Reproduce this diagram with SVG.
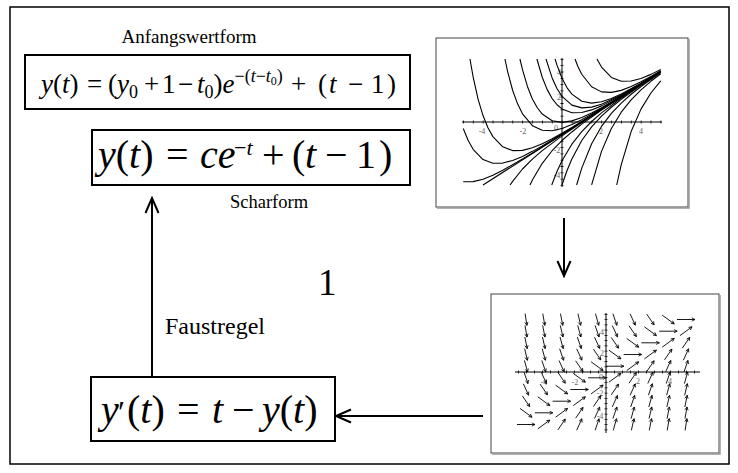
<svg xmlns="http://www.w3.org/2000/svg" xmlns:xlink="http://www.w3.org/1999/xlink" width="738" height="473" viewBox="0 0 738 473">
<style>
.s{font-family:"Liberation Serif","Times New Roman",serif;fill:#000}
.i{font-style:italic}
.box{fill:#fff;stroke:#000;stroke-width:2}
.conn{fill:none;stroke:#000;stroke-width:2;marker-end:url(#ch)}
.cv{fill:none;stroke:#000;stroke-width:1.1;vector-effect:non-scaling-stroke;stroke-linejoin:round}
.tk{font-family:"Liberation Serif","Times New Roman",serif;font-size:8px;fill:#666;text-anchor:middle}
.ax{stroke:#000;stroke-width:1;fill:none}
</style>
<defs>
<marker id="ch" viewBox="-17 -9 19 18" refX="0" refY="0" markerWidth="19" markerHeight="18" markerUnits="userSpaceOnUse" orient="auto">
<path d="M-15,-6.5 L0,0 L-15,6.5" fill="none" stroke="#000" stroke-width="2"/>
</marker>
<marker id="ah" viewBox="-5 -3 6 6" refX="0" refY="0" markerWidth="6" markerHeight="6" markerUnits="userSpaceOnUse" orient="auto">
<path d="M-3.2,-1.6 L0,0 L-3.2,1.6" fill="none" stroke="#000" stroke-width="0.8"/>
</marker>
<path id="a0" d="M-9,0 L9,0"/>
<path id="p1" d="M-6.02,4.39 L6.02,-4.39"/>
<path id="p2" d="M-3.69,5.39 L3.69,-5.39"/>
<path id="p3" d="M-2.59,5.66 L2.59,-5.66"/>
<path id="p4" d="M-1.98,5.76 L1.98,-5.76"/>
<path id="p5" d="M-1.59,5.81 L1.59,-5.81"/>
<path id="p6" d="M-1.34,5.84 L1.34,-5.84"/>
<path id="p7" d="M-1.15,5.86 L1.15,-5.86"/>
<path id="p8" d="M-1.01,5.87 L1.01,-5.87"/>
<path id="p9" d="M-0.9,5.88 L0.9,-5.88"/>
<path id="n1" d="M-6.02,-4.39 L6.02,4.39"/>
<path id="n2" d="M-3.69,-5.39 L3.69,5.39"/>
<path id="n3" d="M-2.59,-5.66 L2.59,5.66"/>
<path id="n4" d="M-1.98,-5.76 L1.98,5.76"/>
<path id="n5" d="M-1.59,-5.81 L1.59,5.81"/>
<path id="n6" d="M-1.34,-5.84 L1.34,5.84"/>
<path id="n7" d="M-1.15,-5.86 L1.15,5.86"/>
<path id="n8" d="M-1.01,-5.87 L1.01,5.87"/>
<path id="n9" d="M-0.9,-5.88 L0.9,5.88"/>
</defs>
<rect x="0" y="0" width="738" height="473" fill="#fff"/>
<rect id="frame" x="10" y="7" width="719" height="457" fill="none" stroke="#000" stroke-width="1.5"/>

<g id="n-anfangswertform">
<text class="s" x="189" y="43" font-size="19" text-anchor="middle">Anfangswertform</text>
<rect class="box" x="25" y="55" width="385" height="54"/>
<text class="s" font-size="27"><tspan x="41" y="93"><tspan class="i">y</tspan>(<tspan class="i">t</tspan>)</tspan><tspan x="87" y="93">=</tspan><tspan x="108" y="93">(<tspan class="i">y</tspan><tspan font-size="18" dy="5">0</tspan></tspan><tspan x="144" y="93">+</tspan><tspan x="162" y="93">1</tspan><tspan x="178" y="93">−</tspan><tspan x="197" y="93"><tspan class="i">t</tspan><tspan font-size="18" dy="5">0</tspan><tspan dy="-5">)</tspan><tspan class="i">e</tspan><tspan font-size="18" dy="-11">−(<tspan class="i">t</tspan>−<tspan class="i">t</tspan><tspan font-size="12" dy="3">0</tspan><tspan dy="-3">)</tspan></tspan></tspan><tspan x="291" y="93">+</tspan><tspan x="318" y="93">(</tspan><tspan x="329" y="93" class="i">t</tspan><tspan x="348" y="93">−</tspan><tspan x="371" y="93">1</tspan><tspan x="387" y="93">)</tspan></text>
</g>

<g id="n-scharform">
<rect class="box" x="92" y="130" width="318" height="55"/>
<text class="s" font-size="40"><tspan x="98" y="168"><tspan class="i">y</tspan>(<tspan class="i">t</tspan>)</tspan><tspan x="166" y="168">=</tspan><tspan x="200" y="168" class="i">ce</tspan><tspan x="234" y="155" font-size="22">−<tspan class="i">t</tspan></tspan><tspan x="262" y="168">+</tspan><tspan x="292" y="168">(</tspan><tspan x="305" y="168" class="i">t</tspan><tspan x="325" y="168">−</tspan><tspan x="356" y="168">1</tspan><tspan x="379" y="168">)</tspan></text>
<text class="s" x="269" y="208" font-size="18.5" text-anchor="middle">Scharform</text>
</g>

<g id="n-dgl">
<rect class="box" x="91" y="377" width="244" height="64"/>
<text class="s" font-size="40"><tspan x="101" y="423" class="i">y</tspan><tspan x="118" y="423" font-size="32">′</tspan><tspan x="127" y="423">(<tspan class="i">t</tspan>)</tspan><tspan x="177" y="423">=</tspan><tspan x="212" y="423" class="i">t</tspan><tspan x="232" y="423">−</tspan><tspan x="262" y="423"><tspan class="i">y</tspan>(<tspan class="i">t</tspan>)</tspan></text>
</g>

<g id="n-loesungskurven">
<rect x="436" y="38" width="252" height="169" fill="#fff" stroke="#444" stroke-width="1"/>
<path d="M437,208 H689 V39" fill="none" stroke="#999" stroke-width="1.5"/>
<path class="ax" d="M462,122 H662 M562,58 V187"/>
<path d="M463,122 H662" stroke="#000" stroke-width="3" stroke-dasharray="0.8 9.075" fill="none"/>
<path d="M562,59 V187" stroke="#000" stroke-width="3" stroke-dasharray="0.8 5.5" fill="none"/>
<text class="tk" x="482" y="134">-4</text><text class="tk" x="523" y="134">-2</text><text class="tk" x="556" y="131">0</text><text class="tk" x="601" y="134">2</text><text class="tk" x="641" y="134">4</text>
<text class="tk" x="559" y="75">4</text><text class="tk" x="559" y="100">2</text><text class="tk" x="557" y="153">-2</text><text class="tk" x="557" y="178">-4</text>
<g transform="translate(562 122) scale(19.75 -12.6)">
<path class="cv" d="M-4.66,5 L-4.5,3.58 L-4.25,1.82 L-4,0.51 L-3.75,-0.46 L-3.5,-1.16 L-3,-1.97 L-2.5,-2.27 L-2,-2.25 L-1.5,-2.05 L-1,-1.73 L-0.5,-1.33 L0,-0.9 L0.5,-0.44 L1,0.04 L1.5,0.52 L2,1.01 L3,2 L4,3 L5,4"/>
<path class="cv" d="M-2.89,5 L-2.75,3.98 L-2.5,2.52 L-2.25,1.44 L-2,0.65 L-1.5,-0.29 L-1,-0.66 L-0.5,-0.69 L0,-0.51 L0.5,-0.2 L1,0.18 L1.5,0.61 L2,1.07 L3,2.03 L4,3.01 L5,4"/>
<path class="cv" d="M-2.13,5 L-2,4.15 L-1.75,2.82 L-1.5,1.83 L-1.25,1.13 L-1,0.63 L-0.5,0.1 L0,-0.03 L0.5,0.09 L1,0.36 L1.5,0.72 L2,1.13 L3,2.05 L4,3.02 L5,4.01"/>
<path class="cv" d="M-1.27,5 L-1,3.55 L-0.75,2.57 L-0.5,1.86 L-0.25,1.37 L0,1.04 L0.5,0.74 L1,0.75 L1.5,0.96 L2,1.28 L3,2.1 L4,3.04 L5,4.01"/>
<path class="cv" d="M-0.81,5 L-0.5,3.5 L-0.25,2.64 L0,2.03 L0.5,1.34 L1,1.12 L1.5,1.18 L2,1.41 L3,2.15 L4,3.06 L5,4.02"/>
<path class="cv" d="M-0.35,5 L-0.25,4.49 L0,3.47 L0.25,2.73 L0.5,2.21 L1,1.65 L1.5,1.5 L2,1.61 L2.5,1.87 L3,2.22 L4,3.08 L5,4.03"/>
<path class="cv" d="M0.66,5 L0.8,4.43 L1,3.79 L1.5,2.8 L2,2.39 L2.5,2.35 L3,2.51 L3.5,2.81 L4,3.19 L4.5,3.61 L5,4.07"/>
<path class="cv" d="M1.77,5 L2,4.36 L2.5,3.54 L3,3.24 L3.5,3.25 L4,3.45 L4.5,3.78 L5,4.17"/>
<path class="cv" d="M-5,-0.51 L-4.75,-1.47 L-4.5,-2.17 L-4,-2.98 L-3.5,-3.27 L-3,-3.26 L-2.5,-3.05 L-2,-2.73 L-1.5,-2.33 L-1,-1.9 L0,-0.96 L1,0.01 L2,1 L3,2 L5,4"/>
<path class="cv" d="M-5,-4.74 L-4.5,-4.73 L-4,-4.54 L-3.5,-4.22 L-3,-3.83 L-2,-2.94 L-1,-1.98 L0,-0.99 L5,4"/>
<path class="cv" d="M-4,-5 L5,4"/>
<path class="cv" d="M-2.63,-5 L-2.5,-4.71 L-2,-3.73 L-1.5,-2.94 L-1,-2.27 L0,-1.1 L1,-0.04 L2,0.99 L3,2 L5,4"/>
<path class="cv" d="M-1.62,-5 L-1.5,-4.61 L-1,-3.28 L-0.5,-2.28 L0,-1.47 L0.5,-0.79 L1,-0.17 L2,0.94 L3,1.98 L4,2.99 L5,4"/>
<path class="cv" d="M-0.52,-5 L-0.25,-3.91 L0,-3.07 L0.5,-1.76 L1,-0.76 L1.5,0.04 L2,0.72 L3,1.9 L4,2.96 L5,3.99"/>
<path class="cv" d="M0,-5 L0.25,-3.87 L0.5,-2.93 L1,-1.47 L1.5,-0.39 L2,0.46 L2.5,1.17 L3,1.8 L4,2.93 L5,3.97"/>
<path class="cv" d="M0.74,-5 L1,-3.66 L1.5,-1.72 L2,-0.35 L2.5,0.68 L3,1.5 L3.5,2.2 L4,2.82 L5,3.93"/>
<path class="cv" d="M1.5,-4.99 L2,-2.33 L2.5,-0.52 L3,0.78 L3.5,1.76 L4,2.55 L4.5,3.23 L5,3.83"/>
<path class="cv" d="M2.77,-5 L3,-3.38 L3.5,-0.76 L4,1.02 L4.5,2.3 L5,3.27"/>
</g>
</g>

<g id="n-richtungsfeld">
<rect x="491" y="294" width="228" height="159" fill="#fff" stroke="#444" stroke-width="1"/>
<path d="M492,454 H720 V295" fill="none" stroke="#999" stroke-width="1.5"/>
<path class="ax" d="M515,372 H700 M606,313 V433"/>
<path d="M518,372 H700" stroke="#000" stroke-width="3" stroke-dasharray="0.8 7.2" fill="none"/>
<path d="M606,314 V433" stroke="#000" stroke-width="3" stroke-dasharray="0.8 4.45" fill="none"/>
<text class="tk" x="544" y="385">-4</text><text class="tk" x="575" y="385">-2</text><text class="tk" x="601" y="380">0</text><text class="tk" x="638" y="384">2</text><text class="tk" x="670" y="384">4</text>
<text class="tk" x="602" y="335">4</text><text class="tk" x="602" y="356">2</text><text class="tk" x="600" y="396">-2</text><text class="tk" x="600" y="419">-4</text>
<g fill="none" stroke="#000" stroke-width="0.9" marker-end="url(#ah)">
<use href="#n9" x="526" y="319.5"/><use href="#n8" x="543.8" y="319.5"/><use href="#n7" x="561.6" y="319.5"/><use href="#n6" x="579.3" y="319.5"/><use href="#n5" x="597.1" y="319.5"/><use href="#n4" x="614.9" y="319.5"/><use href="#n3" x="632.7" y="319.5"/><use href="#n2" x="650.4" y="319.5"/><use href="#n1" x="668.2" y="319.5"/><use href="#a0" x="686" y="319.5"/>
<use href="#n8" x="526" y="331.2"/><use href="#n7" x="543.8" y="331.2"/><use href="#n6" x="561.6" y="331.2"/><use href="#n5" x="579.3" y="331.2"/><use href="#n4" x="597.1" y="331.2"/><use href="#n3" x="614.9" y="331.2"/><use href="#n2" x="632.7" y="331.2"/><use href="#n1" x="650.4" y="331.2"/><use href="#a0" x="668.2" y="331.2"/><use href="#p1" x="686" y="331.2"/>
<use href="#n7" x="526" y="342.8"/><use href="#n6" x="543.8" y="342.8"/><use href="#n5" x="561.6" y="342.8"/><use href="#n4" x="579.3" y="342.8"/><use href="#n3" x="597.1" y="342.8"/><use href="#n2" x="614.9" y="342.8"/><use href="#n1" x="632.7" y="342.8"/><use href="#a0" x="650.4" y="342.8"/><use href="#p1" x="668.2" y="342.8"/><use href="#p2" x="686" y="342.8"/>
<use href="#n6" x="526" y="354.5"/><use href="#n5" x="543.8" y="354.5"/><use href="#n4" x="561.6" y="354.5"/><use href="#n3" x="579.3" y="354.5"/><use href="#n2" x="597.1" y="354.5"/><use href="#n1" x="614.9" y="354.5"/><use href="#a0" x="632.7" y="354.5"/><use href="#p1" x="650.4" y="354.5"/><use href="#p2" x="668.2" y="354.5"/><use href="#p3" x="686" y="354.5"/>
<use href="#n5" x="526" y="366.2"/><use href="#n4" x="543.8" y="366.2"/><use href="#n3" x="561.6" y="366.2"/><use href="#n2" x="579.3" y="366.2"/><use href="#n1" x="597.1" y="366.2"/><use href="#a0" x="614.9" y="366.2"/><use href="#p1" x="632.7" y="366.2"/><use href="#p2" x="650.4" y="366.2"/><use href="#p3" x="668.2" y="366.2"/><use href="#p4" x="686" y="366.2"/>
<use href="#n4" x="526" y="377.8"/><use href="#n3" x="543.8" y="377.8"/><use href="#n2" x="561.6" y="377.8"/><use href="#n1" x="579.3" y="377.8"/><use href="#a0" x="597.1" y="377.8"/><use href="#p1" x="614.9" y="377.8"/><use href="#p2" x="632.7" y="377.8"/><use href="#p3" x="650.4" y="377.8"/><use href="#p4" x="668.2" y="377.8"/><use href="#p5" x="686" y="377.8"/>
<use href="#n3" x="526" y="389.5"/><use href="#n2" x="543.8" y="389.5"/><use href="#n1" x="561.6" y="389.5"/><use href="#a0" x="579.3" y="389.5"/><use href="#p1" x="597.1" y="389.5"/><use href="#p2" x="614.9" y="389.5"/><use href="#p3" x="632.7" y="389.5"/><use href="#p4" x="650.4" y="389.5"/><use href="#p5" x="668.2" y="389.5"/><use href="#p6" x="686" y="389.5"/>
<use href="#n2" x="526" y="401.2"/><use href="#n1" x="543.8" y="401.2"/><use href="#a0" x="561.6" y="401.2"/><use href="#p1" x="579.3" y="401.2"/><use href="#p2" x="597.1" y="401.2"/><use href="#p3" x="614.9" y="401.2"/><use href="#p4" x="632.7" y="401.2"/><use href="#p5" x="650.4" y="401.2"/><use href="#p6" x="668.2" y="401.2"/><use href="#p7" x="686" y="401.2"/>
<use href="#n1" x="526" y="412.8"/><use href="#a0" x="543.8" y="412.8"/><use href="#p1" x="561.6" y="412.8"/><use href="#p2" x="579.3" y="412.8"/><use href="#p3" x="597.1" y="412.8"/><use href="#p4" x="614.9" y="412.8"/><use href="#p5" x="632.7" y="412.8"/><use href="#p6" x="650.4" y="412.8"/><use href="#p7" x="668.2" y="412.8"/><use href="#p8" x="686" y="412.8"/>
<use href="#a0" x="526" y="424.5"/><use href="#p1" x="543.8" y="424.5"/><use href="#p2" x="561.6" y="424.5"/><use href="#p3" x="579.3" y="424.5"/><use href="#p4" x="597.1" y="424.5"/><use href="#p5" x="614.9" y="424.5"/><use href="#p6" x="632.7" y="424.5"/><use href="#p7" x="650.4" y="424.5"/><use href="#p8" x="668.2" y="424.5"/><use href="#p9" x="686" y="424.5"/>
</g>
</g>

<g id="connectors">
<path class="conn" d="M152,377 V198"/>
<path class="conn" d="M483,416 H336"/>
<path class="conn" d="M564,218 V276"/>
</g>

<g id="labels">
<text class="s" x="165" y="334" font-size="24">Faustregel</text>
<text class="s" x="318" y="295" font-size="37">1</text>
</g>
</svg>
